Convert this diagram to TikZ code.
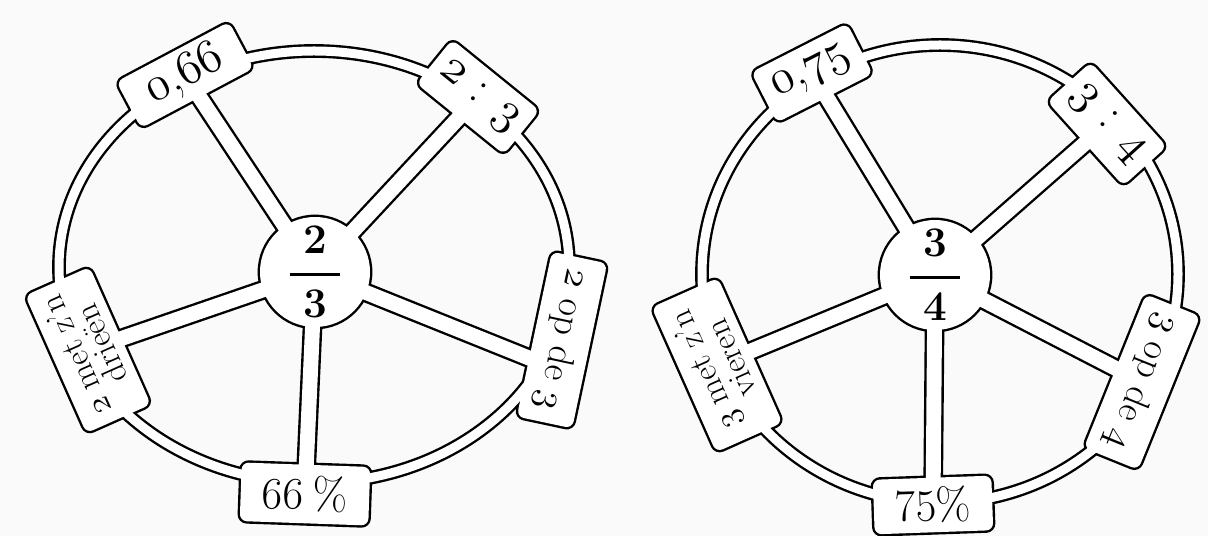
\RequirePackage{fix-cm}
\documentclass[tikz,border=0pt]{standalone}
\usepackage{amsmath}
\usetikzlibrary{calc}
\pgfdeclarelayer{rim}
\pgfdeclarelayer{hollow}
\pgfsetlayers{rim,hollow,main}
\definecolor{paper}{RGB}{249,250,249}
\newcommand\osn[1]{$\mathnormal{#1}$}
\newcommand\hubfrac[2]{$\genfrac{}{}{2pt}{0}{\;#1\;}{\;#2\;}$}
\tikzset{
  tab/.style={rectangle, inner sep=0pt, align=center},
  tabsize/.style 2 args={minimum width=#1*0.025cm, minimum height=#2*0.025cm},
  bigtxt/.style={font=\fontsize{34}{34}\selectfont},
  pcttxt/.style={font=\fontsize{32}{32}\selectfont},
  optxt/.style={font=\fontsize{27}{27}\selectfont},
  mettxt/.style={font=\fontsize{24}{20}\selectfont},
  hub/.style={circle, inner sep=0pt, minimum size=110*0.025cm,
              font=\fontsize{30}{30}\selectfont\boldmath},
  rimline/.style={line width=9.8pt},
  rimgap/.style={line width=6.4pt, white},
  spokeline/.style={line width=14pt},
  spokegap/.style={line width=10.6pt, white},
  tabline/.style={line width=3.4pt, rounded corners=5pt},
  tabgap/.style={fill=white, rounded corners=5pt},
}
\begin{document}
\begin{tikzpicture}[x=0.025cm, y=-0.025cm]
  \useasboundingbox (0,0) rectangle (1208,536);
  % left wheel: 2/3
  \coordinate (lring) at (314,267);
  \node[hub] (lhub) at (315,272) {\hubfrac{2}{3}};
  \node[tab, tabsize={127}{52}, rotate=28, bigtxt] (l1) at (185,75) {\osn{0},\osn{66}};
  \node[tab, tabsize={112}{56}, rotate=-39, bigtxt] (l2) at (478,97) {\osn{2} : \osn{3}};
  \node[tab, tabsize={168}{56}, rotate=-102, optxt] (l3) at (562,340) {\osn{2} op de \osn{3}};
  \node[tab, tabsize={128}{58}, rotate=-2, pcttxt] (l4) at (305,494) {66\hspace{0.2em}\%};
  \node[tab, tabsize={150}{70}, rotate=114, mettxt] (l5) at (88,350) {\osn{2} met z'n\\drieën};
  \coordinate (l3s) at ($(l3.center)!0.35!(l3.east)$);
  % right wheel: 3/4
  \coordinate (rring) at (940,274);
  \node[hub] (rhub) at (935,275) {\hubfrac{3}{4}};
  \node[tab, tabsize={107}{56}, rotate=27, bigtxt] (r1) at (812,73) {\osn{0},\osn{75}};
  \node[tab, tabsize={113}{58}, rotate=-48, bigtxt] (r2) at (1107,124) {\osn{3} : \osn{4}};
  \node[tab, tabsize={165}{58}, rotate=-112, optxt] (r3) at (1142,382) {\osn{3} op de \osn{4}};
  \node[tab, tabsize={118}{54}, rotate=2, pcttxt] (r4) at (933,505) {75\%};
  \node[tab, tabsize={158}{72}, rotate=114, mettxt] (r5) at (717,365) {\osn{3} met z'n\\vieren};

  % black outlines
  \begin{pgfonlayer}{rim}
    \fill[paper] (0,0) rectangle (1208,536);
    \draw[rimline] (lring) ellipse [x radius=255, y radius=216];
    \draw[rimline] (rring) ellipse [x radius=238, y radius=229];
    \foreach \t in {l1.center,l2.center,l3s,l4.center,l5.center}
      \draw[spokeline] (lhub.center) -- (\t);
    \foreach \t in {r1,r2,r3,r4,r5}
      \draw[spokeline] (rhub.center) -- (\t.center);
    \fill (lhub.center) circle [radius=57.4];
    \fill (rhub.center) circle [radius=57.4];
    \foreach \t in {l1,l2,l3,l4,l5,r1,r2,r3,r4,r5}
      \draw[tabline] (\t.north west) -- (\t.north east) -- (\t.south east) -- (\t.south west) -- cycle;
  \end{pgfonlayer}

  % white insides
  \begin{pgfonlayer}{hollow}
    \draw[rimgap] (lring) ellipse [x radius=255, y radius=216];
    \draw[rimgap] (rring) ellipse [x radius=238, y radius=229];
    \foreach \t in {l1.center,l2.center,l3s,l4.center,l5.center}
      \draw[spokegap] (lhub.center) -- (\t);
    \foreach \t in {r1,r2,r3,r4,r5}
      \draw[spokegap] (rhub.center) -- (\t.center);
    \fill[white] (lhub.center) circle [radius=55];
    \fill[white] (rhub.center) circle [radius=55];
    \foreach \t in {l1,l2,l3,l4,l5,r1,r2,r3,r4,r5}
      \fill[tabgap] (\t.north west) -- (\t.north east) -- (\t.south east) -- (\t.south west) -- cycle;
  \end{pgfonlayer}
\end{tikzpicture}
\end{document}
